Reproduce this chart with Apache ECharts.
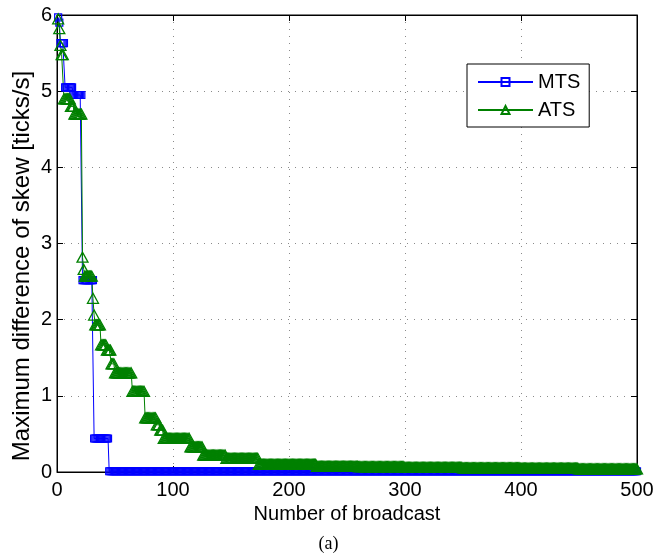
<!DOCTYPE html>
<html>
<head>
<meta charset="utf-8">
<script src="https://cdn.jsdelivr.net/npm/echarts@6/dist/echarts.min.js"></script>
<style>
html,body{margin:0;padding:0;background:#fff;}
#chart{width:657px;height:559px;}
</style>
</head>
<body>
<div id="chart"></div>
<script>
// x range of broadcasts
const xFirst = 1;
const xLast = 500;
// MTS: step function (run start index, value)
const mtsRunStart = [1, 2, 3, 7, 14, 22, 32, 45];
const mtsRunValue = [5.97, 5.9, 5.63, 5.05, 4.95, 2.52, 0.44, 0.01];
// ATS: step function (run start index, value)
const atsRunStart = [1, 2, 3, 4, 6, 12, 15, 22, 23, 24, 31, 32, 33, 38, 43, 47, 50, 65, 76, 86, 89, 92, 115, 126, 146, 174, 224, 260, 300, 350, 400, 450];
const atsRunValue = [5.95, 5.82, 5.6, 5.48, 4.9, 4.8, 4.7, 2.82, 2.66, 2.57, 2.28, 2.06, 1.93, 1.67, 1.6, 1.42, 1.3, 1.06, 0.71, 0.62, 0.55, 0.44, 0.33, 0.22, 0.18, 0.1, 0.075, 0.07, 0.06, 0.055, 0.05, 0.04];
const xTicks = [0, 100, 200, 300, 400, 500];
const yTicks = [0, 1, 2, 3, 4, 5, 6];
const seriesNames = ['MTS', 'ATS'];
const xTitle = 'Number of broadcast';
const yTitle = 'Maximum difference of skew [ticks/s]';
const caption = '(a)';

function expandRuns(starts, values) {
  const out = [];
  for (let x = xFirst; x <= xLast; x++) {
    let v = values[0];
    for (let i = 0; i < starts.length; i++) {
      if (starts[i] <= x) v = values[i];
    }
    out.push([x, v]);
  }
  return out;
}

const mtsData = expandRuns(mtsRunStart, mtsRunValue);
const atsData = expandRuns(atsRunStart, atsRunValue);

const chart = echarts.init(document.getElementById('chart'), null, {renderer: 'canvas'});
const fontFam = '"Liberation Sans", Arial, Helvetica, sans-serif';
const gridLine = {show: true, lineStyle: {color: '#8a8a8a', type: [1, 6], width: 1}};

chart.setOption({
  animation: false,
  backgroundColor: '#fff',
  grid: {left: 57, right: 20, top: 15, bottom: 87, show: true, borderColor: '#000', borderWidth: 1, backgroundColor: 'transparent'},
  legend: {
    data: seriesNames,
    orient: 'vertical',
    left: 467, top: 64,
    padding: [8, 9, 7, 10],
    itemGap: 8,
    itemWidth: 55, itemHeight: 10,
    backgroundColor: '#fff',
    borderColor: '#000', borderWidth: 1, borderRadius: 0,
    textStyle: {fontFamily: fontFam, fontSize: 20, color: '#000'}
  },
  xAxis: [{
    type: 'value', min: xTicks[0], max: xTicks[xTicks.length - 1], interval: 100,
    name: xTitle, nameLocation: 'middle', nameGap: 32,
    nameTextStyle: {fontFamily: fontFam, fontSize: 20, color: '#000'},
    axisLine: {show: true, onZero: false, lineStyle: {color: '#000', width: 1}},
    axisTick: {show: true, inside: true, length: 6, lineStyle: {color: '#000'}},
    axisLabel: {fontFamily: fontFam, fontSize: 20, color: '#000', margin: 8},
    splitLine: gridLine
  }, {
    type: 'value', position: 'top', min: xTicks[0], max: xTicks[xTicks.length - 1], interval: 100,
    axisLine: {show: true, onZero: false, lineStyle: {color: '#000', width: 1}},
    axisTick: {show: true, inside: true, length: 6, lineStyle: {color: '#000'}},
    axisLabel: {show: false}, splitLine: {show: false}
  }],
  yAxis: [{
    type: 'value', min: yTicks[0], max: yTicks[yTicks.length - 1], interval: 1,
    axisLine: {show: true, onZero: false, lineStyle: {color: '#000', width: 1}},
    axisTick: {show: true, inside: true, length: 6, lineStyle: {color: '#000'}},
    axisLabel: {fontFamily: fontFam, fontSize: 20, color: '#000', margin: 5},
    splitLine: gridLine
  }, {
    type: 'value', position: 'right', min: yTicks[0], max: yTicks[yTicks.length - 1], interval: 1,
    axisLine: {show: true, onZero: false, lineStyle: {color: '#000', width: 1}},
    axisTick: {show: true, inside: true, length: 6, lineStyle: {color: '#000'}},
    axisLabel: {show: false}, splitLine: {show: false}
  }],
  series: [{
    name: seriesNames[0], type: 'line', data: mtsData,
    xAxisIndex: 0, yAxisIndex: 0, clip: false,
    color: '#0000ff',
    showAllSymbol: true, symbol: 'rect', symbolSize: 7,
    lineStyle: {color: '#0000ff', width: 1},
    itemStyle: {color: 'rgba(255,255,255,0)', borderColor: '#0000ff', borderWidth: 1.2},
    emphasis: {disabled: true}
  }, {
    name: seriesNames[1], type: 'line', data: atsData,
    xAxisIndex: 0, yAxisIndex: 0, clip: false,
    color: '#008000',
    showAllSymbol: true, symbol: 'triangle', symbolSize: [11, 10],
    lineStyle: {color: '#008000', width: 1},
    itemStyle: {color: 'rgba(255,255,255,0)', borderColor: '#008000', borderWidth: 1.3},
    emphasis: {disabled: true}
  }],
  graphic: [{
    type: 'text', x: 22, y: 266, rotation: Math.PI / 2,
    style: {text: yTitle, font: '24px "Liberation Sans", Arial, sans-serif', fill: '#000', align: 'center', verticalAlign: 'middle'}
  }, {
    type: 'text', left: 'center', top: 535,
    style: {text: caption, font: '18px "Liberation Serif", "Times New Roman", serif', fill: '#000'}
  }]
});
</script>
</body>
</html>
